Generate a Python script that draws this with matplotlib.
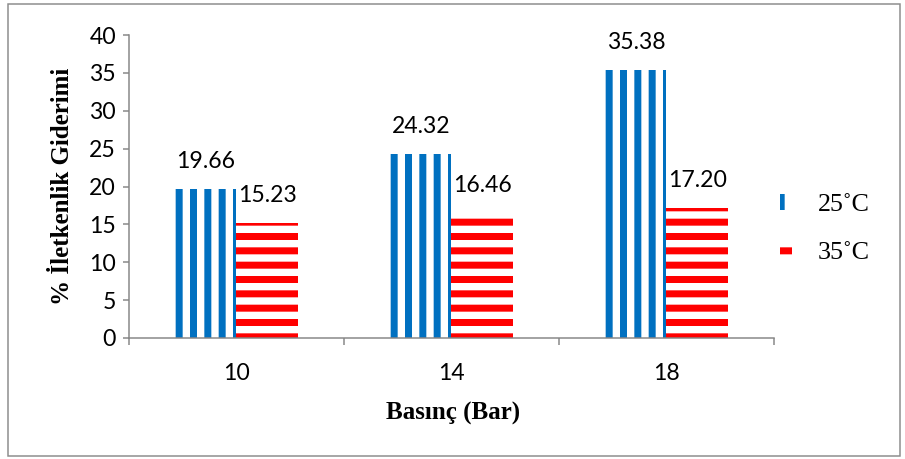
import matplotlib.pyplot as plt
import matplotlib.patches as mpatches
import numpy as np

# Veriler
basinc = ['10', '14', '18']
giderim_25 = [19.66, 24.32, 35.38]
giderim_35 = [15.23, 16.46, 17.20]
seri_adlari = ['25˚C', '35˚C']
y_ticks = [0, 5, 10, 15, 20, 25, 30, 35, 40]

DPI = 172
PX = 72 / DPI  # piksel -> punto

plt.rcParams['hatch.linewidth'] = 7 * PX

mavi = '#0070C0'
kirmizi = '#FF0000'
gri = '#868686'

fig = plt.figure(figsize=(905 / DPI, 459 / DPI), dpi=DPI)
ax = fig.add_axes([129 / 905, 1 - 338 / 459, 645 / 905, 303 / 459])

x = np.arange(len(basinc))
w = 0.285

b1 = ax.bar(x - w / 2, giderim_25, w, facecolor='white', edgecolor=mavi,
            hatch='||', linewidth=0, label=seri_adlari[0])
b2 = ax.bar(x + w / 2, giderim_35, w, facecolor='white', edgecolor=kirmizi,
            hatch='--', linewidth=0, label=seri_adlari[1])

for bars, vals in ((b1, giderim_25), (b2, giderim_35)):
    for r, v in zip(bars, vals):
        ax.annotate(f'{v:.2f}', (r.get_x() + r.get_width() / 2, v),
                    xytext=(0, 17 * PX), textcoords='offset points',
                    ha='center', va='bottom', family='Lato', fontsize=23 * PX)

ax.set_xlim(-0.5, 2.5)
ax.set_ylim(0, 40)
ax.set_yticks(y_ticks)
ax.set_yticklabels([str(t) for t in y_ticks], family='Lato', fontsize=23 * PX)
ax.set_xticks([-0.5, 0.5, 1.5, 2.5])
ax.set_xticklabels([])
ax.set_xticks(x, minor=True)
ax.set_xticklabels(basinc, minor=True, family='Lato', fontsize=23 * PX)
ax.tick_params(axis='x', which='major', length=7 * PX, width=1.5 * PX, color=gri)
ax.tick_params(axis='x', which='minor', length=0, pad=25 * PX)
ax.tick_params(axis='y', length=6 * PX, width=1.5 * PX, color=gri, pad=7 * PX)

for s in ('top', 'right'):
    ax.spines[s].set_visible(False)
for s in ('left', 'bottom'):
    ax.spines[s].set_color(gri)
    ax.spines[s].set_linewidth(1.5 * PX)

ax.set_ylabel('% İletkenlik Giderimi', family='Liberation Serif',
              fontweight='bold', fontsize=25 * PX)
ax.yaxis.set_label_coords(-0.085, 0.5)
ax.set_xlabel('Basınç (Bar)', family='Liberation Serif',
              fontweight='bold', fontsize=25 * PX)
ax.xaxis.set_label_coords(0.502, -0.21)

leg = fig.legend(handles=[b1, b2], loc='center left',
                 bbox_to_anchor=(762 / 905, 1 - 229 / 459), frameon=False,
                 prop={'family': 'Liberation Serif', 'size': 26 * PX},
                 handlelength=0.45, handleheight=0.55, handletextpad=1.0,
                 labelspacing=1.0, borderpad=0.2)

# dış çerçeve
fig.patches.append(mpatches.Rectangle((8 / 905, 3 / 459), 892 / 905, 452 / 459,
                                      transform=fig.transFigure, fill=False,
                                      edgecolor='#8c8c8c', linewidth=1.5 * PX))

fig.savefig('out.png', dpi=DPI)
